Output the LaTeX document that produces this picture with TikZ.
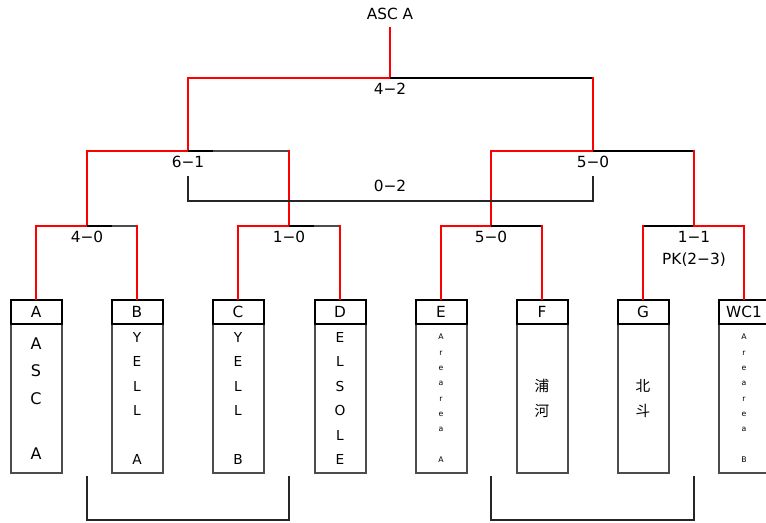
\documentclass[tikz,border=0pt]{standalone}
\usepackage{fontspec}
\setmainfont{DejaVu Sans}
\newfontfamily\cjk{Noto Sans CJK JP}
\usepackage{tikz}

\begin{document}
\begin{tikzpicture}[x=0.75pt, y=-0.75pt,
  win/.style={red, line width=1.5pt, line cap=rect},
  lose/.style={black, line width=1.5pt},
  losegray/.style={black!70, line width=1.5pt},
  thinline/.style={black!85, line width=0.8pt},
  score/.style={font=\fontsize{11.5}{13}\selectfont, inner sep=0pt},
  head/.style={draw, line width=1.5pt, fill=white, minimum width=38.25pt,
    minimum height=18pt, anchor=north, font=\fontsize{11.5}{13}\selectfont},
  body/.style={draw=black!70, line width=1.5pt, minimum width=38.25pt,
    minimum height=111.75pt, anchor=north, align=center, inner sep=0pt}]
\useasboundingbox (0,0) rectangle (766,523);

% team boxes
\node[body, font=\fontsize{12}{20.6}\selectfont] (ba) at (36,323) {A\\S\\C\\\mbox{}\\A};
\node[body, font=\fontsize{10.3}{18.4}\selectfont] (bb) at (137,323) {Y\\E\\L\\L\\\mbox{}\\A};
\node[body, font=\fontsize{10.3}{18.4}\selectfont] (bc) at (238,323) {Y\\E\\L\\L\\\mbox{}\\B};
\node[body, font=\fontsize{10.3}{18.4}\selectfont] (bd) at (340,323) {E\\L\\S\\O\\L\\E};
\node[body, font=\fontsize{5.8}{11.5}\selectfont] (be) at (441,323) {A\\r\\e\\a\\r\\e\\a\\\mbox{}\\A};
\node[body, font=\cjk\fontsize{11}{18.75}\selectfont] (bf) at (542,323) {浦\\河};
\node[body, font=\cjk\fontsize{11}{18.75}\selectfont] (bg) at (643,323) {北\\斗};
\node[body, font=\fontsize{5.8}{11.5}\selectfont] (bw) at (744,323) {A\\r\\e\\a\\r\\e\\a\\\mbox{}\\B};
\foreach \x/\n/\t in {36/a/A, 137/b/B, 238/c/C, 340/d/D, 441/e/E, 542/f/F, 643/g/G, 744/w/WC1}
  \node[head] (\n) at (\x,299) {\t};

% match points
\coordinate (fin) at (390,78);
\coordinate (sl) at (188,151);
\coordinate (sr) at (593,151);
\coordinate (q1) at (87,226);
\coordinate (q2) at (289,226);
\coordinate (q3) at (491,226);
\coordinate (q4) at (694,226);

% final
\node[score] (champ) at (390,14) {ASC A};
\draw[win] (champ.south) ++(0,8) -- (fin);
\draw[win] (fin) -| (sl);
\draw[lose] (fin) -- (fin -| sr);
\draw[win] (fin -| sr) -- (sr);
\node[score] (s42) at (390,89) {4−2};

% semi finals
\draw[win] (sl) -| (q1);
\draw[lose] (sl) -- ++(25,0) coordinate (m1);
\draw[losegray] (m1) -- (sl -| q2);
\draw[win] (sl -| q2) -- (q2);
\node[score] (s61) at (188,162) {6−1};
\draw[win] (sr) -| (q3);
\draw[lose] (sr) -- (sr -| q4);
\draw[win] (sr -| q4) -- (q4);
\node[score] (s50a) at (593,162) {5−0};

% third place
\coordinate (t1) at (188,176);
\coordinate (t2) at (593,176);
\coordinate (tp) at (390,201);
\draw[thinline] (t1) |- (tp) -| (t2);
\node[score] (s02) at (390,186) {0−2};

% quarter finals
\draw[win] (q1) -| (a.north);
\draw[lose] (q1) -- ++(25,0) coordinate (m3);
\draw[losegray] (m3) -- (q1 -| b);
\draw[win] (q1 -| b) -- (b.north);
\node[score] (s40) at (87,237) {4−0};
\draw[win] (q2) -| (c.north);
\draw[lose] (q2) -- ++(25,0) coordinate (m4);
\draw[losegray] (m4) -- (q2 -| d);
\draw[win] (q2 -| d) -- (d.north);
\node[score] (s10) at (289,237) {1−0};
\draw[win] (q3) -| (e.north);
\draw[lose] (q3) -- (q3 -| f);
\draw[win] (q3 -| f) -- (f.north);
\node[score] (s50b) at (491,237) {5−0};
\draw[lose] (q4) -- (q4 -| g);
\draw[win] (q4 -| g) -- (g.north);
\draw[win] (q4) -| (w.north);
\node[score] (s11) at (694,237) {1−1};
\node[score] (pk) at (694,260) {PK(2−3)};

% lower brackets
\coordinate (u1) at (87,476);
\coordinate (u2) at (289,476);
\coordinate (ul) at (188,520);
\draw[thinline] (u1) |- (ul) -| (u2);
\coordinate (u3) at (491,476);
\coordinate (u4) at (694,476);
\coordinate (ur) at (592,520);
\draw[thinline] (u3) |- (ur) -| (u4);
\end{tikzpicture}
\end{document}
